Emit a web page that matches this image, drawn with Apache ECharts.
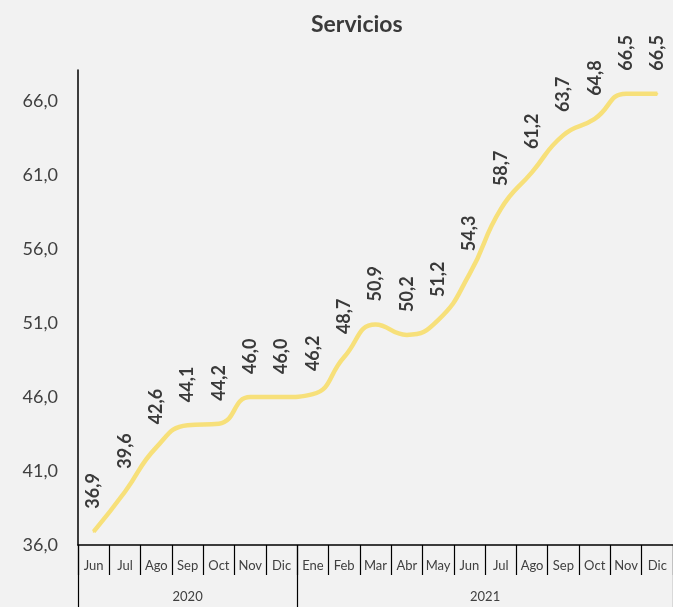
<!DOCTYPE html>
<html><head><meta charset="utf-8">
<script src="https://cdn.jsdelivr.net/npm/echarts@6/dist/echarts.min.js"></script>
<style>html,body{margin:0;padding:0;background:#F2F2F2}#c{width:673px;height:607px}</style>
</head><body><div id="c"></div>
<script>
const months = ['Jun','Jul','Ago','Sep','Oct','Nov','Dic','Ene','Feb','Mar','Abr','May','Jun','Jul','Ago','Sep','Oct','Nov','Dic'];
const values = [36.9,39.6,42.6,44.1,44.2,46.0,46.0,46.2,48.7,50.9,50.2,51.2,54.3,58.7,61.2,63.7,64.8,66.5,66.5];
const years = ['2020','2021'];
const yearCounts = [7,12];
const yTicksMin = 36, yTicksStep = 5;

const bounds = [0]; yearCounts.forEach(c => bounds.push(bounds[bounds.length-1]+c));
const centers = yearCounts.map((c,i)=> bounds[i] + c/2);

const FONT = 'Lato';
const chart = echarts.init(document.getElementById('c'));
chart.setOption({
  backgroundColor: '#F2F2F2',
  animation: false,
  title: { text: 'Servicios', left: 306, top: 8,
    textStyle: { fontFamily: FONT, fontSize: 23, fontWeight: 'bold', color: '#3a3a3a' } },
  grid: { left: 78, right: -6, top: 70, bottom: 62, containLabel: false },
  xAxis: [{
    type: 'category', data: months, boundaryGap: true,
    axisLine: { show: true, lineStyle: { color: '#000', width: 1.5 } },
    axisTick: { show: true, interval: 0, length: 30, lineStyle: { color: '#000', width: 1.2 } },
    axisLabel: { interval: 0, margin: 14, fontFamily: FONT, fontSize: 13, color: '#404040' }
  }, {
    type: 'value', position: 'bottom', min: 0, max: months.length,
    axisLine: { show: false },
    splitLine: { show: false },
    axisTick: { show: true, customValues: bounds, length: 62, lineStyle: { color: '#000', width: 1.2 } },
    axisLabel: { customValues: centers, margin: 45, fontFamily: FONT, fontSize: 13, color: '#404040',
      formatter: v => { const i = centers.indexOf(v); return i >= 0 ? years[i] : ''; } }
  }],
  yAxis: {
    type: 'value', min: yTicksMin, max: 68.1, interval: yTicksStep,
    axisLine: { show: true, lineStyle: { color: '#000', width: 1.5 } },
    axisTick: { show: false },
    splitLine: { show: false },
    axisLabel: { showMaxLabel: false, margin: 20, fontFamily: FONT, fontSize: 18, color: '#404040',
      formatter: v => v.toFixed(1).replace('.', ',') }
  },
  series: [{
    type: 'line', data: values, xAxisIndex: 0, yAxisIndex: 0, smooth: 0.5,
    showSymbol: true, symbol: 'circle', symbolSize: 2,
    itemStyle: { color: '#F7E07A' },
    lineStyle: { color: '#F7E07A', width: 4.5 },
    labelLayout: { hideOverlap: false },
    label: { show: true, position: 'top', distance: 22, rotate: 90, align: 'left', verticalAlign: 'middle',
      fontFamily: FONT, fontSize: 18, fontWeight: 'bold', color: '#3a3a3a',
      formatter: p => Number(p.value).toFixed(1).replace('.', ',') }
  }]
});
</script></body></html>
